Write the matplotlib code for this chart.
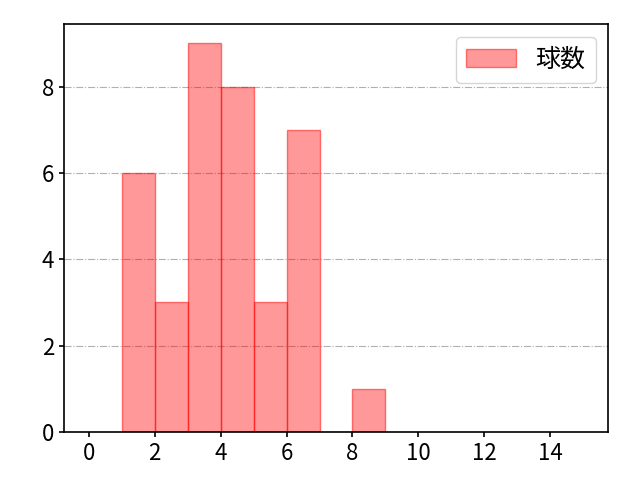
import matplotlib
matplotlib.use("Agg")
import matplotlib.pyplot as plt

plt.rcParams['font.family'] = ['Noto Sans CJK JP', 'DejaVu Sans']

bin_left = [1, 2, 3, 4, 5, 6, 7, 8]
counts = [6, 3, 9, 8, 3, 7, 0, 1]
label = "球数"

fig, ax = plt.subplots(figsize=(6.4, 4.8), dpi=100)
fig.subplots_adjust(left=0.1, right=0.95, top=0.95, bottom=0.1)
edges = bin_left + [bin_left[-1] + 1]
ax.hist(bin_left, bins=edges, weights=counts, facecolor=(1, 0, 0, 0.4),
        edgecolor=(1, 0, 0, 0.5), linewidth=1, label=label)
ax.set_xlim(-0.75, 15.75)
ax.set_ylim(0, 9.45)
ax.set_xticks(range(0, 15, 2))
ax.set_yticks(range(0, 9, 2))
ax.grid(axis='y', linestyle='-.', color='#b0b0b0', linewidth=0.8)
ax.set_axisbelow(True)
for s in ax.spines.values():
    s.set_linewidth(1.2)
ax.tick_params(labelsize=16, width=1.2)
ax.legend(fontsize=18, loc='upper right')
fig.savefig("out.png")
